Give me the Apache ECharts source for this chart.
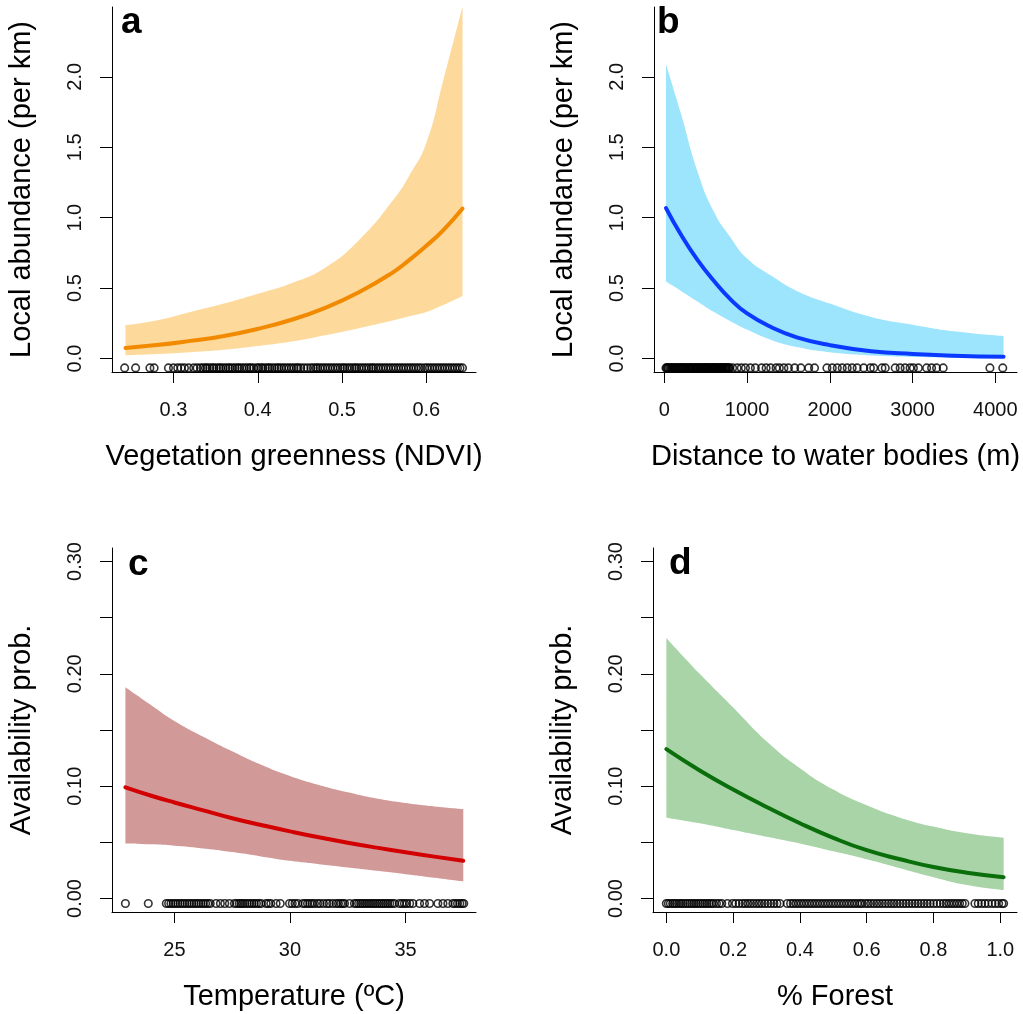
<!DOCTYPE html>
<html>
<head>
<meta charset="utf-8">
<script src="https://cdn.jsdelivr.net/npm/echarts@6/dist/echarts.min.js"></script>
<style>
html,body{margin:0;padding:0;background:#fff;}
#chart{width:1023px;height:1014px;}
</style>
</head>
<body>
<div id="chart"></div>
<script>
// ---------- Panel a : Vegetation greenness (NDVI) ----------
const aX    = [0.243, 0.28, 0.32, 0.36, 0.40, 0.44, 0.48, 0.52, 0.56, 0.58, 0.60, 0.62, 0.643];
const aMean = [0.075, 0.095, 0.125, 0.16, 0.21, 0.275, 0.36, 0.47, 0.61, 0.70, 0.80, 0.91, 1.065];
const aLow  = [0.023, 0.032, 0.045, 0.062, 0.088, 0.12, 0.165, 0.215, 0.27, 0.30, 0.33, 0.38, 0.444];
const aUp   = [0.237, 0.27, 0.33, 0.39, 0.46, 0.535, 0.645, 0.84, 1.12, 1.30, 1.53, 1.97, 2.50];
const aRug  = [0.242, 0.255, 0.272, 0.277, 0.294, 0.300, 0.305, 0.309, 0.313, 0.318, 0.324, 0.328, 0.332,
  0.335, 0.338, 0.340, 0.343, 0.346, 0.348, 0.351, 0.354, 0.356, 0.359, 0.362, 0.365, 0.367, 0.370, 0.373,
  0.376, 0.378, 0.381, 0.384, 0.387, 0.390, 0.392, 0.395, 0.399, 0.401, 0.404, 0.406, 0.409, 0.412, 0.414,
  0.417, 0.420, 0.423, 0.425, 0.428, 0.431, 0.434, 0.437, 0.440, 0.443, 0.446, 0.448, 0.451, 0.455, 0.459,
  0.463, 0.466, 0.469, 0.471, 0.474, 0.477, 0.480, 0.483, 0.486, 0.489, 0.492, 0.495, 0.498, 0.501, 0.503,
  0.506, 0.509, 0.512, 0.515, 0.517, 0.520, 0.523, 0.526, 0.529, 0.532, 0.535, 0.537, 0.540, 0.543, 0.546,
  0.549, 0.552, 0.555, 0.558, 0.561, 0.564, 0.567, 0.570, 0.573, 0.576, 0.579, 0.582, 0.585, 0.588, 0.591,
  0.594, 0.598, 0.601, 0.604, 0.607, 0.610, 0.613, 0.616, 0.619, 0.622, 0.625, 0.628, 0.631, 0.634, 0.637,
  0.640, 0.643];

// ---------- Panel b : Distance to water bodies (m) ----------
const bX    = [20, 200, 400, 600, 800, 1000, 1300, 1600, 2000, 2500, 3000, 3500, 4100];
const bMean = [1.068, 0.88, 0.70, 0.55, 0.42, 0.32, 0.22, 0.15, 0.095, 0.052, 0.032, 0.02, 0.012];
const bLow  = [0.546, 0.48, 0.405, 0.33, 0.265, 0.205, 0.13, 0.082, 0.045, 0.022, 0.011, 0.006, 0.003];
const bUp   = [2.09, 1.74, 1.33, 1.04, 0.86, 0.71, 0.585, 0.48, 0.39, 0.295, 0.24, 0.193, 0.159];
const bRug  = [20, 30, 40, 50, 65, 80, 90, 100, 115, 130, 140, 150, 165, 180, 190, 200, 215, 225, 235, 250,
  260, 270, 285, 300, 310, 320, 330, 340, 355, 370, 380, 390, 400, 410, 425, 435, 445, 460, 470, 480, 490,
  500, 510, 520, 530, 540, 555, 565, 575, 585, 595, 605, 615, 625, 635, 650, 660, 670, 680, 690, 700, 710,
  720, 730, 740, 750, 760, 770, 780, 790, 825, 880, 930, 980, 1040, 1100, 1175, 1230, 1285, 1350, 1390,
  1445, 1500, 1575, 1650, 1745, 1815, 1965, 2030, 2090, 2150, 2210, 2270, 2330, 2410, 2490, 2530, 2630,
  2670, 2790, 2850, 2910, 2970, 3010, 3070, 3170, 3230, 3290, 3370, 3935, 4090];

// ---------- Panel c : Temperature ----------
const cX    = [22.88, 24, 25, 26.25, 27.5, 28.75, 30, 31.25, 32.5, 33.75, 35, 36.25, 37.5];
const cMean = [0.099, 0.0915, 0.0855, 0.0785, 0.0715, 0.0655, 0.0598, 0.0545, 0.0497, 0.0453, 0.0412, 0.0373, 0.0336];
const cLow  = [0.049, 0.0482, 0.0470, 0.0445, 0.0413, 0.0375, 0.0336, 0.0306, 0.0277, 0.0247, 0.0217, 0.0185, 0.0152];
const cUp   = [0.188, 0.172, 0.158, 0.144, 0.131, 0.119, 0.109, 0.101, 0.0945, 0.089, 0.085, 0.082, 0.0797];
const cRug  = [22.88, 23.87, 24.65, 24.75, 24.85, 24.95, 25.05, 25.15, 25.25, 25.35, 25.45, 25.55, 25.65,
  25.75, 25.85, 25.95, 26.05, 26.15, 26.25, 26.35, 26.45, 26.55, 26.80, 26.99, 27.18, 27.38, 27.60, 27.70,
  27.80, 27.88, 27.96, 28.05, 28.15, 28.25, 28.35, 28.45, 28.55, 28.65, 28.75, 28.97, 29.07, 29.17, 29.40,
  29.58, 29.98, 30.10, 30.22, 30.34, 30.56, 30.66, 30.76, 30.86, 30.96, 31.06, 31.20, 31.30, 31.45, 31.60,
  31.70, 31.85, 32.00, 32.10, 32.20, 32.29, 32.36, 32.58, 32.79, 32.88, 32.97, 33.06, 33.15, 33.24, 33.33,
  33.42, 33.51, 33.60, 33.69, 33.78, 33.87, 33.96, 34.05, 34.14, 34.23, 34.32, 34.42, 34.52, 34.74, 34.85,
  34.95, 35.05, 35.18, 35.32, 35.61, 35.82, 36.04, 36.40, 36.62, 36.83, 37.05, 37.15, 37.25, 37.35, 37.45,
  37.52];

// ---------- Panel d : % Forest ----------
const dX    = [0, 0.1, 0.2, 0.3, 0.4, 0.5, 0.6, 0.7, 0.8, 0.9, 1.01];
const dMean = [0.133, 0.114, 0.097, 0.0815, 0.067, 0.054, 0.043, 0.035, 0.028, 0.023, 0.019];
const dLow  = [0.072, 0.067, 0.061, 0.055, 0.049, 0.042, 0.035, 0.027, 0.019, 0.012, 0.0075];
const dUp   = [0.232, 0.200, 0.170, 0.140, 0.116, 0.097, 0.083, 0.072, 0.064, 0.058, 0.054];
const dRug  = [0.000, 0.006, 0.012, 0.019, 0.025, 0.031, 0.038, 0.044, 0.050, 0.057, 0.063, 0.070, 0.076,
  0.083, 0.089, 0.096, 0.102, 0.109, 0.115, 0.122, 0.128, 0.135, 0.141, 0.150, 0.158, 0.166, 0.183, 0.198,
  0.208, 0.218, 0.228, 0.236, 0.244, 0.252, 0.261, 0.270, 0.278, 0.286, 0.295, 0.304, 0.313, 0.322, 0.331,
  0.340, 0.362, 0.372, 0.380, 0.388, 0.396, 0.404, 0.412, 0.420, 0.428, 0.436, 0.444, 0.452, 0.460, 0.468,
  0.476, 0.484, 0.492, 0.500, 0.508, 0.516, 0.524, 0.532, 0.540, 0.548, 0.556, 0.564, 0.572, 0.580, 0.586,
  0.596, 0.604, 0.612, 0.621, 0.630, 0.638, 0.647, 0.656, 0.665, 0.674, 0.682, 0.691, 0.700, 0.709, 0.718,
  0.727, 0.736, 0.745, 0.754, 0.763, 0.772, 0.781, 0.790, 0.800, 0.810, 0.820, 0.830, 0.838, 0.846, 0.854,
  0.862, 0.870, 0.878, 0.886, 0.894, 0.924, 0.934, 0.944, 0.954, 0.964, 0.975, 0.985, 0.995, 1.005, 1.010];

// ---------- Tick values and labels ----------
const aXTicks = [0.3, 0.4, 0.5, 0.6];
const bXTicks = [0, 1000, 2000, 3000, 4000];
const cXTicks = [25, 30, 35];
const dXTicks = [0, 0.2, 0.4, 0.6, 0.8, 1.0];
const abYTicks = [0, 0.5, 1.0, 1.5, 2.0];
const cdYTicks = [0, 0.05, 0.10, 0.15, 0.20, 0.25, 0.30];
const cdYLabels = [0, 0.10, 0.20, 0.30];
const rugLevelAB = -0.067;
const rugLevelCD = -0.0045;

const panelLetters = ['a', 'b', 'c', 'd'];
const xTitles = ['Vegetation greenness (NDVI)', 'Distance to water bodies (m)', 'Temperature (\u00BAC)', '% Forest'];
const yTitles = ['Local abundance (per km)', 'Local abundance (per km)', 'Availability prob.', 'Availability prob.'];

// ---------- Build chart ----------
const FONT = '"Liberation Sans", Arial, Helvetica, sans-serif';
const panels = [
  {x: aX, mean: aMean, lo: aLow, up: aUp, rug: aRug, rugY: rugLevelAB,
   xTicks: aXTicks, xLabels: aXTicks, xFmt: v => v.toFixed(1), xMin: 0.227, xMax: 0.659,
   yTicks: abYTicks, yLabels: abYTicks, yFmt: v => v.toFixed(1), yMin: -0.096, yMax: 2.496,
   band: '#FED99C', line: '#F28A00',
   grid: {left: 112, top: 7, width: 364, height: 365}, letter: [121, 4]},
  {x: bX, mean: bMean, lo: bLow, up: bUp, rug: bRug, rugY: rugLevelAB,
   xTicks: bXTicks, xLabels: bXTicks, xFmt: v => String(v), xMin: -125, xMax: 4262,
   yTicks: abYTicks, yLabels: abYTicks, yFmt: v => v.toFixed(1), yMin: -0.096, yMax: 2.496,
   band: '#9DE4FD', line: '#0A3AFF',
   grid: {left: 654, top: 7, width: 363, height: 365}, letter: [657, 4]},
  {x: cX, mean: cMean, lo: cLow, up: cUp, rug: cRug, rugY: rugLevelCD,
   xTicks: cXTicks, xLabels: cXTicks, xFmt: v => String(v), xMin: 22.3, xMax: 38.05,
   yTicks: cdYTicks, yLabels: cdYLabels, yFmt: v => v.toFixed(2), yMin: -0.012, yMax: 0.312,
   band: '#D29999', line: '#D20000',
   grid: {left: 112, top: 548, width: 364, height: 364}, letter: [128, 546]},
  {x: dX, mean: dMean, lo: dLow, up: dUp, rug: dRug, rugY: rugLevelCD,
   xTicks: dXTicks, xLabels: dXTicks, xFmt: v => v.toFixed(1), xMin: -0.04, xMax: 1.05,
   yTicks: cdYTicks, yLabels: cdYLabels, yFmt: v => v.toFixed(2), yMin: -0.012, yMax: 0.312,
   band: '#A8D4A8', line: '#0A6E0A',
   grid: {left: 653, top: 548, width: 364, height: 364}, letter: [669, 545]}
];

const grids = [], xAxes = [], yAxes = [], series = [], graphics = [];

panels.forEach((p, i) => {
  grids.push(Object.assign({containLabel: false, outerBoundsMode: 'none'}, p.grid));
  xAxes.push({
    type: 'value', gridIndex: i, min: p.xMin, max: p.xMax,
    name: xTitles[i], nameLocation: 'middle', nameGap: 70,
    nameTextStyle: {fontFamily: FONT, fontSize: 29, color: '#000'},
    axisLine: {show: true, onZero: false, lineStyle: {color: '#000', width: 1}},
    axisTick: {show: true, length: 11, customValues: p.xTicks, lineStyle: {color: '#000', width: 1}},
    axisLabel: {show: true, customValues: p.xLabels, formatter: p.xFmt, margin: 28,
      fontFamily: FONT, fontSize: 20, color: '#111'},
    splitLine: {show: false}
  });
  yAxes.push({
    type: 'value', gridIndex: i, min: p.yMin, max: p.yMax,
    name: yTitles[i], nameLocation: 'middle', nameGap: 76, nameRotate: 90,
    nameTextStyle: {fontFamily: FONT, fontSize: 29, color: '#000'},
    axisLine: {show: true, onZero: false, lineStyle: {color: '#000', width: 1}},
    axisTick: {show: true, length: 12, customValues: p.yTicks, lineStyle: {color: '#000', width: 1}},
    axisLabel: {show: true, customValues: p.yLabels, formatter: p.yFmt, rotate: 90, margin: 27,
      fontFamily: FONT, fontSize: 20, color: '#111'},
    splitLine: {show: false}
  });
  // confidence band: lower bound + (upper - lower) stacked on the y dimension (stored first)
  series.push({
    type: 'line', xAxisIndex: i, yAxisIndex: i, stack: 'band' + i,
    data: p.x.map((x, k) => [p.lo[k], x]), encode: {x: 1, y: 0},
    smooth: 0.5, showSymbol: false, symbol: 'none',
    lineStyle: {opacity: 0, width: 0}, silent: true, z: 1, clip: true
  });
  series.push({
    type: 'line', xAxisIndex: i, yAxisIndex: i, stack: 'band' + i,
    data: p.x.map((x, k) => [p.up[k] - p.lo[k], x]), encode: {x: 1, y: 0},
    smooth: 0.5, showSymbol: false, symbol: 'none',
    lineStyle: {opacity: 0, width: 0}, areaStyle: {color: p.band, opacity: 1},
    silent: true, z: 1, clip: true
  });
  series.push({
    type: 'line', xAxisIndex: i, yAxisIndex: i, data: p.x.map((x, k) => [x, p.mean[k]]),
    smooth: 0.5, showSymbol: false, symbol: 'none',
    lineStyle: {color: p.line, width: 4, cap: 'round'}, silent: true, z: 3, clip: true
  });
  series.push({
    type: 'scatter', xAxisIndex: i, yAxisIndex: i, data: p.rug.map(x => [x, p.rugY]),
    symbol: 'circle', symbolSize: 7.5,
    itemStyle: {color: 'rgba(255,255,255,0)', borderColor: '#000', borderWidth: 1.6},
    silent: true, z: 4
  });
  graphics.push({
    type: 'text', left: p.letter[0], top: p.letter[1], z: 100,
    style: {text: panelLetters[i], fontFamily: FONT, fontSize: 37, fontWeight: 'bold', fill: '#000'}
  });
});

const chart = echarts.init(document.getElementById('chart'), null, {renderer: 'canvas'});
chart.setOption({
  animation: false,
  backgroundColor: '#ffffff',
  grid: grids, xAxis: xAxes, yAxis: yAxes, series: series, graphic: graphics
});
</script>
</body>
</html>
